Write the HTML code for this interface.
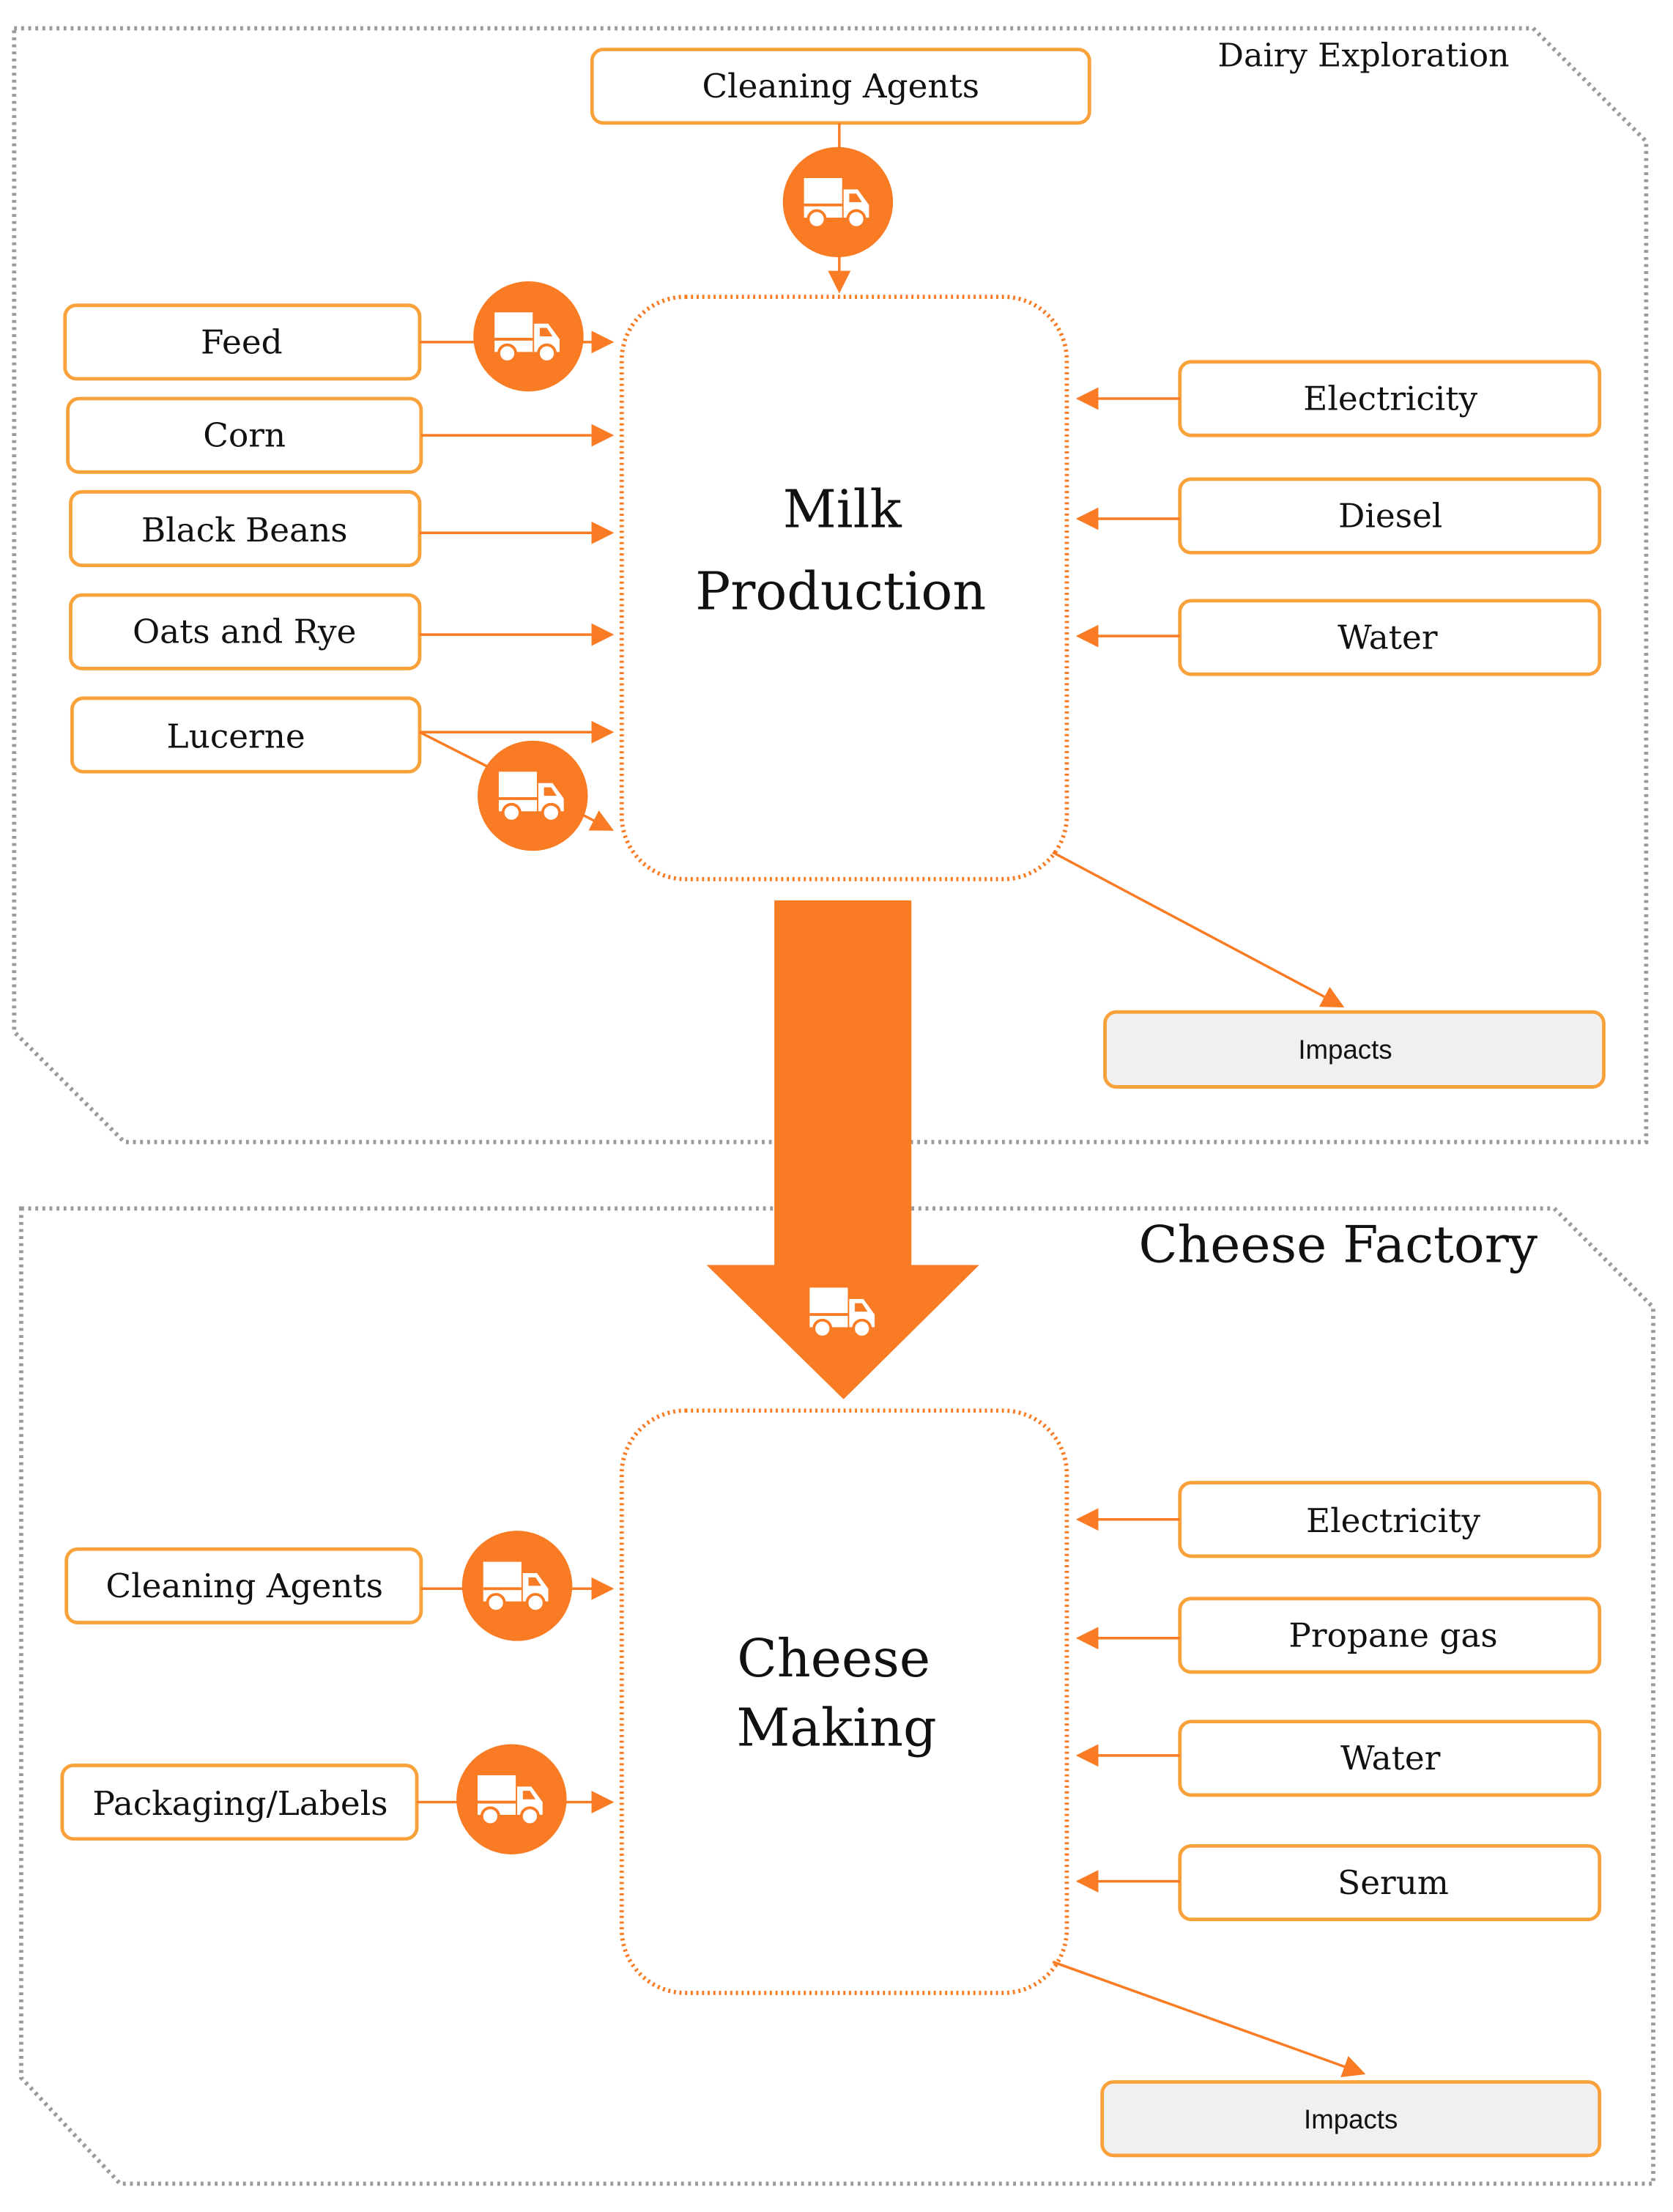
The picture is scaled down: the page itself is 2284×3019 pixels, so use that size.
<!DOCTYPE html>
<html><head><meta charset="utf-8"><style>
html,body{margin:0;padding:0;background:#fff}
svg{display:block}
text{font-family:"DejaVu Serif","Liberation Serif",serif;fill:#111}
text.s{font-family:"Liberation Sans",sans-serif}
</style></head><body>
<svg width="2284" height="3019" viewBox="0 0 1184 1565" preserveAspectRatio="none" xmlns="http://www.w3.org/2000/svg">
<defs>
<marker id="a2" viewBox="0 0 10 10" refX="9" refY="5" markerWidth="16" markerHeight="16" orient="auto" markerUnits="userSpaceOnUse">
<path d="M0,0 L10,5 L0,10 z" fill="#f97c25"/></marker>
<g id="truck">
<rect x="-24" y="-17" width="27" height="28" fill="#fff"/>
<rect x="-24" y="1" width="27" height="2" fill="#f97c25"/>
<path d="M4,-9 L14,-9 L22,2 L22,11 L4,11 z" fill="#fff"/>
<path d="M8,-6 L13,-6 L17,0 L8,0 z" fill="#f97c25"/>
<circle cx="-15" cy="12" r="6" fill="#fff" stroke="#f97c25" stroke-width="2"/>
<circle cx="13" cy="12" r="6" fill="#fff" stroke="#f97c25" stroke-width="2"/>
</g>
<g id="tc"><circle r="39" fill="#f97c25"/><use href="#truck"/></g>
</defs>
<g fill="none" stroke="#9a9a9a" stroke-width="3" stroke-dasharray="2,3">
<polygon points="10,20 1085,20 1165,100 1165,808 88,808 10,730"/>
<polygon points="15,855 1100,855 1170,925 1170,1545 85,1545 15,1470"/>
</g>
<text x="965" y="47" font-size="23" text-anchor="middle">Dairy Exploration</text>
<text x="947" y="893" font-size="36" text-anchor="middle">Cheese Factory</text>
<g fill="#fff" stroke="#f9a23c" stroke-width="2.5">
<rect x="419" y="35" width="352" height="52" rx="8"/>
<rect x="46" y="216" width="251" height="52" rx="8"/>
<rect x="48" y="282" width="250" height="52" rx="8"/>
<rect x="50" y="348" width="247" height="52" rx="8"/>
<rect x="50" y="421" width="247" height="52" rx="8"/>
<rect x="51" y="494" width="246" height="52" rx="8"/>
<rect x="835" y="256" width="297" height="52" rx="8"/>
<rect x="835" y="339" width="297" height="52" rx="8"/>
<rect x="835" y="425" width="297" height="52" rx="8"/>
<rect x="47" y="1096" width="251" height="52" rx="8"/>
<rect x="44" y="1249" width="251" height="52" rx="8"/>
<rect x="835" y="1049" width="297" height="52" rx="8"/>
<rect x="835" y="1131" width="297" height="52" rx="8"/>
<rect x="835" y="1218" width="297" height="52" rx="8"/>
<rect x="835" y="1306" width="297" height="52" rx="8"/>
<rect x="782" y="716" width="353" height="53" rx="8" fill="#f0f0f0"/>
<rect x="780" y="1473" width="352" height="52" rx="8" fill="#f0f0f0"/>
</g>
<g fill="none" stroke="#f97c25" stroke-width="3" stroke-dasharray="1.5,2.5">
<rect x="440" y="210" width="315" height="412" rx="45"/>
<rect x="440" y="998" width="315" height="412" rx="45"/>
</g>
<g stroke="#f97c25" stroke-width="1.8" fill="none" marker-end="url(#a2)">
<line x1="594" y1="87" x2="594" y2="206"/>
<line x1="297" y1="242" x2="433" y2="242"/>
<line x1="298" y1="308" x2="433" y2="308"/>
<line x1="297" y1="377" x2="433" y2="377"/>
<line x1="297" y1="449" x2="433" y2="449"/>
<line x1="297" y1="518" x2="433" y2="518"/>
<line x1="297" y1="518" x2="433" y2="587"/>
<line x1="835" y1="282" x2="763" y2="282"/>
<line x1="835" y1="367" x2="763" y2="367"/>
<line x1="835" y1="450" x2="763" y2="450"/>
<line x1="745" y1="603" x2="950" y2="712"/>
<line x1="298" y1="1124" x2="433" y2="1124"/>
<line x1="295" y1="1275" x2="433" y2="1275"/>
<line x1="835" y1="1075" x2="763" y2="1075"/>
<line x1="835" y1="1159" x2="763" y2="1159"/>
<line x1="835" y1="1242" x2="763" y2="1242"/>
<line x1="835" y1="1331" x2="763" y2="1331"/>
<line x1="745" y1="1388" x2="965" y2="1467"/>
</g>
<use href="#tc" x="593" y="143"/>
<use href="#tc" x="374" y="238"/>
<use href="#tc" x="377" y="563"/>
<use href="#tc" x="366" y="1122"/>
<use href="#tc" x="362" y="1273"/>
<path d="M548,637 L645,637 L645,895 L693,895 L597,990 L500,895 L548,895 z" fill="#f97c25"/>
<use href="#truck" x="597" y="928"/>
<g font-size="23.5" text-anchor="middle">
<text x="595" y="69">Cleaning Agents</text>
<text x="171" y="250">Feed</text>
<text x="173" y="316">Corn</text>
<text x="173" y="383">Black Beans</text>
<text x="173" y="455">Oats and Rye</text>
<text x="167" y="529">Lucerne</text>
<text x="984" y="290">Electricity</text>
<text x="984" y="373">Diesel</text>
<text x="982" y="459">Water</text>
<text x="173" y="1130">Cleaning Agents</text>
<text x="170" y="1284">Packaging/Labels</text>
<text x="986" y="1084">Electricity</text>
<text x="986" y="1165">Propane gas</text>
<text x="984" y="1252">Water</text>
<text x="986" y="1340">Serum</text>
</g>
<g font-size="37" text-anchor="middle">
<text x="596" y="373">Milk</text>
<text x="595" y="431">Production</text>
<text x="590" y="1186">Cheese</text>
<text x="592" y="1235">Making</text>
</g>
<g font-size="19" text-anchor="middle">
<text class="s" x="952" y="749">Impacts</text>
<text class="s" x="956" y="1506">Impacts</text>
</g>
</svg>
</body></html>
